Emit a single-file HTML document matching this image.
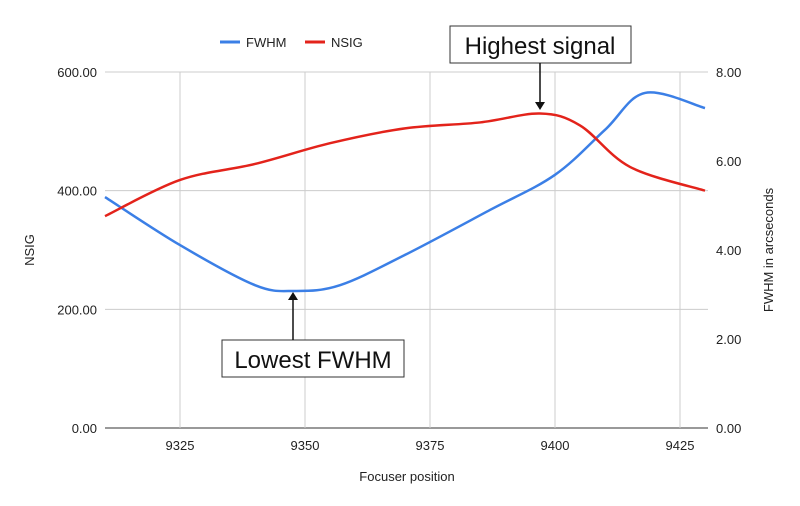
<!DOCTYPE html>
<html><head><meta charset="utf-8"><style>
body{margin:0;background:#fff}
svg{display:block;font-family:"Liberation Sans",Arial,sans-serif}
</style></head><body>
<svg id="c" width="800" height="506" viewBox="0 0 800 506">
<rect width="800" height="506" fill="#fff"/>
<g id="grid"></g><g id="lines"></g><g id="ticks"></g>
<g>
<line x1="220" y1="42" x2="240" y2="42" stroke="#3b7fe6" stroke-width="3"/>
<text x="246" y="47" font-size="13" fill="#222">FWHM</text>
<line x1="305" y1="42" x2="325" y2="42" stroke="#e3231b" stroke-width="3"/>
<text x="331" y="47" font-size="13" fill="#222">NSIG</text>
</g>
<text transform="translate(34,250) rotate(-90)" text-anchor="middle" font-size="13" fill="#222">NSIG</text>
<text transform="translate(773,250) rotate(-90)" text-anchor="middle" font-size="13" fill="#222">FWHM in arcseconds</text>
<text x="407" y="481" text-anchor="middle" font-size="13" fill="#222">Focuser position</text>
<g>
<rect x="450" y="26" width="181" height="37" fill="#fff" stroke="#333"/>
<text x="540" y="54" text-anchor="middle" font-size="24" fill="#111">Highest signal</text>
<line x1="540" y1="63" x2="540" y2="104" stroke="#111" stroke-width="1.5"/>
<polygon points="535,102 545,102 540,110" fill="#111"/>
</g>
<g>
<rect x="222" y="340" width="182" height="37" fill="#fff" stroke="#333"/>
<text x="313" y="368" text-anchor="middle" font-size="24" fill="#111">Lowest FWHM</text>
<line x1="293" y1="340" x2="293" y2="298" stroke="#111" stroke-width="1.5"/>
<polygon points="288,300 298,300 293,292" fill="#111"/>
</g>
</svg>
<script>
const xTicks=[9325,9350,9375,9400,9425];
const leftTicks=[0,200,400,600];
const rightTicks=[0,2,4,6,8];
const nsigX=[9310,9325,9340,9355,9370,9385,9397,9405,9415,9430];
const nsigY=[357,418,445,480,505,515,530,510,440,400];
const fwhmX=[9310,9325,9340,9348,9357,9370,9387,9400,9410,9418,9430];
const fwhmY=[5.19,4.11,3.21,3.08,3.21,3.89,4.9,5.69,6.7,7.53,7.19];
const X0=105,X1=708,Y0=428,Y1=72;
const sx=v=>X0+(v-9310)/(9430.6-9310)*(X1-X0);
const syL=v=>Y0-v/600*(Y0-Y1);
const syR=v=>Y0-v/8*(Y0-Y1);
const NS="http://www.w3.org/2000/svg";
function mk(t,a,p){const e=document.createElementNS(NS,t);for(const k in a)e.setAttribute(k,a[k]);p.appendChild(e);return e;}
const grid=document.getElementById('grid'),ticks=document.getElementById('ticks'),lines=document.getElementById('lines');
leftTicks.forEach((v,i)=>{const y=syL(v);
const g=mk('line',{x1:X0,x2:X1,y1:y,y2:y,stroke:v===0?'#333':'#ccc'},grid);


const t=mk('text',{x:X0-8,y:y+5,'text-anchor':'end','font-size':13,fill:'#222'},ticks);t.textContent=v.toFixed(2);

});
rightTicks.forEach(v=>{const y=syR(v);
const t=mk('text',{x:X1+8,y:y+5,'font-size':13,fill:'#222'},ticks);t.textContent=v.toFixed(2);

});
xTicks.forEach(v=>{const x=sx(v);
const g=mk('line',{x1:x,x2:x,y1:Y1,y2:Y0,stroke:'#ccc'},grid);


const t=mk('text',{x:x,y:Y0+22,'text-anchor':'middle','font-size':13,fill:'#222'},ticks);t.textContent=v;

});
function path(xs,ys,fy){const p=xs.map((x,i)=>[sx(x),fy(ys[i])]);let d='M'+p[0];
for(let i=0;i<p.length-1;i++){const a=p[i-1]||p[i],b=p[i],c=p[i+1],e=p[i+2]||c;
const c1=[b[0]+(c[0]-a[0])/6,b[1]+(c[1]-a[1])/6],c2=[c[0]-(e[0]-b[0])/6,c[1]-(e[1]-b[1])/6];
d+=' C'+c1+' '+c2+' '+c;}return d;}
const f=mk('path',{d:path(fwhmX,fwhmY,syR),fill:'none',stroke:'#3b7fe6','stroke-width':2.5},lines);


const n=mk('path',{d:path(nsigX,nsigY,syL),fill:'none',stroke:'#e3231b','stroke-width':2.5},lines);


</script>
</body></html>
